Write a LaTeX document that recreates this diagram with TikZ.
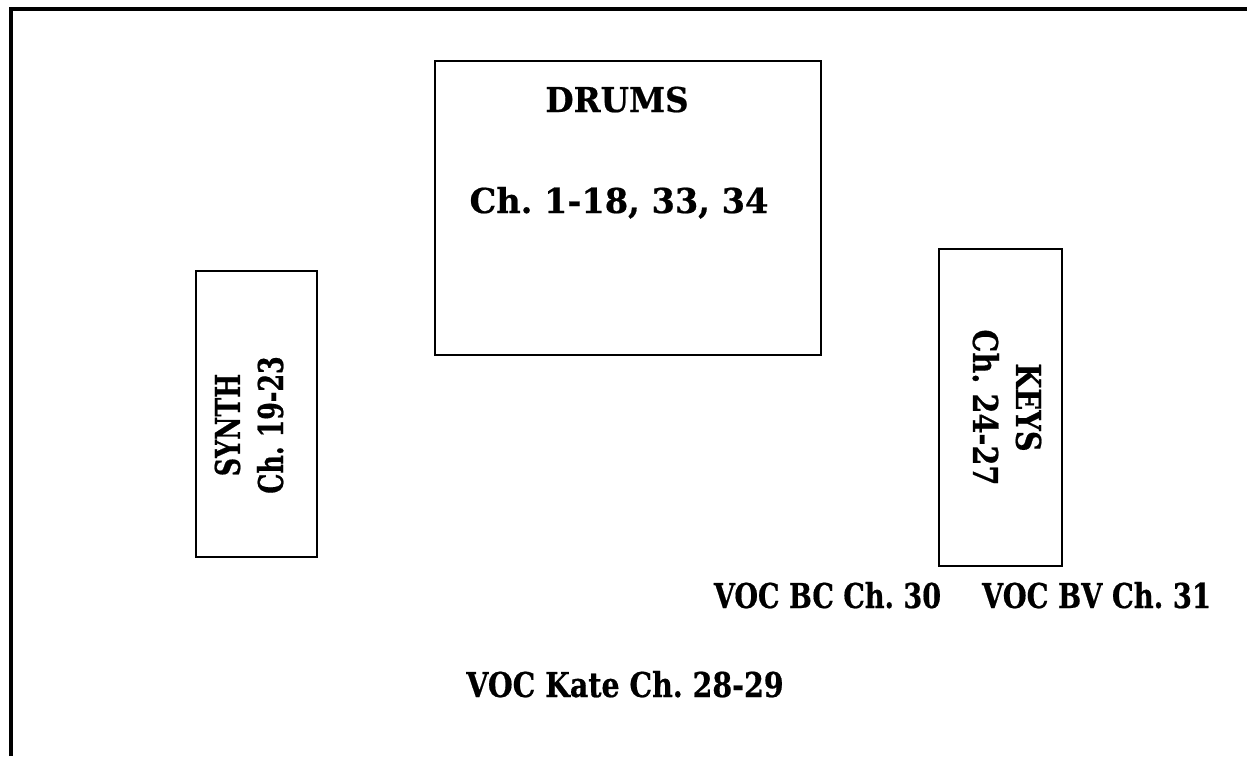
\documentclass[tikz,border=0pt]{standalone}
\usepackage{fontspec}
\setmainfont{DejaVu Serif}[BoldFeatures={FakeBold=0.6}]
\begin{document}
\frenchspacing
\begin{tikzpicture}[every node/.style={font=\bfseries\fontsize{19.5}{24.5}\selectfont,align=center,inner sep=0pt}, box/.style={draw,line width=1.4pt}, lbl/.style={anchor=base}]
\useasboundingbox (0,0) rectangle (24.94,-15.12);
\draw[line width=2pt] (0.22,-15.12) |- (24.94,-0.18);
% stage positions
\node[box,minimum width=7.72cm,minimum height=5.88cm] (drums) at (12.56,-4.16) {};
\node[box,minimum width=2.42cm,minimum height=5.72cm] (synth) at (5.13,-8.28) {};
\node[box,minimum width=2.46cm,minimum height=6.34cm] (keys) at (20.01,-8.15) {};
\node[lbl,xscale=0.95] (drumsname) at (12.34,-2.24) {DRUMS};
\node[lbl,xscale=0.98] (drumsch) at (12.38,-4.26) {Ch. 1-18, 33, 34};
\node[rotate=90,xscale=0.74] (synthlbl) at (4.98,-8.50) {SYNTH\\Ch. 19-23};
\node[rotate=-90,xscale=0.84] (keyslbl) at (20.14,-8.15) {KEYS\\Ch. 24-27};
\node[lbl,xscale=0.79] (vocbc) at (16.55,-12.16) {VOC BC Ch. 30};
\node[lbl,xscale=0.80] (vocbv) at (21.93,-12.16) {VOC BV Ch. 31};
\node[lbl,xscale=0.83] (vockate) at (12.5,-13.94) {VOC Kate Ch. 28-29};
\end{tikzpicture}
\end{document}
